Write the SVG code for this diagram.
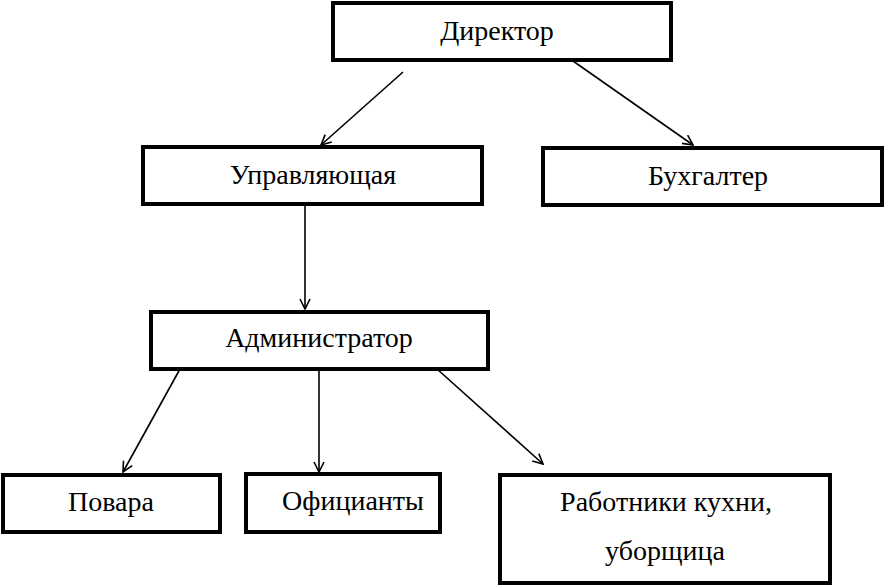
<svg xmlns="http://www.w3.org/2000/svg" width="885" height="586" viewBox="0 0 885 586">
<style>
.box{fill:#fff;stroke:#000;stroke-width:4}
.lbl{font-family:"Liberation Serif","Times New Roman",serif;font-size:28px;fill:#000;text-anchor:middle}
.con{stroke:#000;stroke-width:1.6;fill:none;marker-end:url(#arr)}
</style>
<defs>
<marker id="arr" viewBox="0 0 12 12" refX="11" refY="6" markerWidth="12" markerHeight="12" markerUnits="userSpaceOnUse" orient="auto">
<polyline points="1,1 11,6 1,11" fill="none" stroke="#000" stroke-width="1.6"/>
</marker>
</defs>
<rect width="885" height="586" fill="#fff"/>
<g id="connectors">
<line class="con" x1="403" y1="72" x2="321" y2="145"/>
<line class="con" x1="573" y1="61" x2="693" y2="145"/>
<line class="con" x1="305" y1="204" x2="305" y2="309"/>
<line class="con" x1="180" y1="369" x2="123" y2="472"/>
<line class="con" x1="319" y1="369" x2="319" y2="472"/>
<line class="con" x1="437" y1="369" x2="543" y2="464"/>
</g>
<g id="director">
<rect class="box" x="333" y="3" width="338" height="57"/>
<text class="lbl" x="497" y="40">Директор</text>
</g>
<g id="manager">
<rect class="box" x="143" y="147" width="339" height="57"/>
<text class="lbl" x="313" y="184">Управляющая</text>
</g>
<g id="accountant">
<rect class="box" x="543" y="148" width="339" height="57"/>
<text class="lbl" x="708" y="185">Бухгалтер</text>
</g>
<g id="admin">
<rect class="box" x="151" y="312" width="337" height="57"/>
<text class="lbl" x="319" y="347">Администратор</text>
</g>
<g id="cooks">
<rect class="box" x="3" y="475" width="217" height="57"/>
<text class="lbl" x="111" y="511">Повара</text>
</g>
<g id="waiters">
<rect class="box" x="246" y="474" width="194" height="58"/>
<text class="lbl" x="353" y="510">Официанты</text>
</g>
<g id="kitchen">
<rect class="box" x="500" y="475" width="330" height="108"/>
<text class="lbl" x="666" y="511">Работники кухни,</text>
<text class="lbl" x="665" y="560">уборщица</text>
</g>
</svg>
